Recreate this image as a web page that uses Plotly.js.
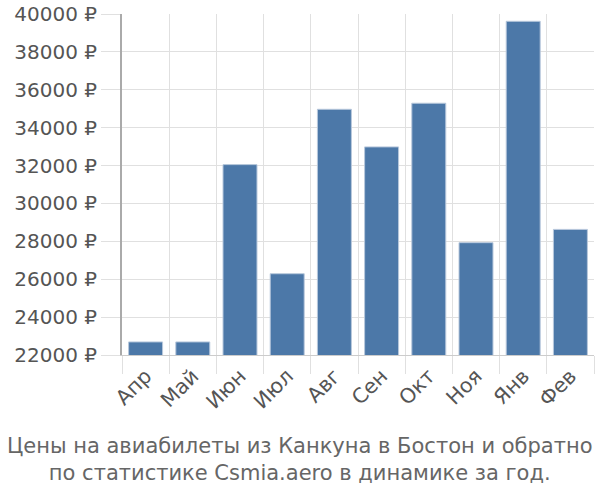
<!DOCTYPE html>
<html><head><meta charset="utf-8">
<script src="https://cdn.plot.ly/plotly-3.0.1.min.js"></script>
<style>html,body{margin:0;padding:0;background:#fff}</style>
</head><body>
<div id="chart" style="width:600px;height:500px"></div>
<script>
var months = ["Апр","Май","Июн","Июл","Авг","Сен","Окт","Ноя","Янв","Фев"];
var prices = [22690, 22690, 32050, 26290, 34970, 32985, 35290, 27930, 39615, 28630];
var yTicks = [22000,24000,26000,28000,30000,32000,34000,36000,38000,40000];
var yTickText = yTicks.map(function(v){return v + " ₽";});
var titleText = "Цены на авиабилеты из Канкуна в Бостон и обратно<br>по статистике Csmia.aero в динамике за год.";

Plotly.newPlot("chart", [{
  type: "bar",
  x: months,
  y: prices,
  marker: {color: "#4c78a8", line: {color: "#b8c8dc", width: 1}},
  hoverinfo: "skip"
}], {
  width: 600, height: 500,
  margin: {l: 122, r: 6, t: 14, b: 145},
  paper_bgcolor: "#fff", plot_bgcolor: "#fff",
  bargap: 0.28,
  font: {family: "DejaVu Sans, sans-serif", color: "#555", size: 20},
  xaxis: {
    type: "category",
    tickson: "boundaries",
    showgrid: true, gridcolor: "#e0e0e0", gridwidth: 1,
    ticks: "outside", ticklen: 18, tickcolor: "#e0e0e0",
    tickangle: -45,
    tickfont: {size: 20.5, color: "#555"},
    showline: true, linecolor: "#ccc", linewidth: 1,
    zeroline: false
  },
  yaxis: {
    range: [22000, 40000],
    tickvals: yTicks, ticktext: yTickText,
    showgrid: true, gridcolor: "#e0e0e0", gridwidth: 1,
    ticks: "outside", ticklen: 19, tickcolor: "#e0e0e0",
    tickfont: {size: 20, color: "#555"},
    showline: true, linecolor: "#aaa", linewidth: 2,
    zeroline: false
  },
  annotations: [{
    text: titleText, showarrow: false,
    xref: "paper", yref: "paper", x: 0.377, y: 0, yshift: -77,
    xanchor: "center", yanchor: "top",
    font: {size: 21, color: "#666"}, align: "center"
  }],
  showlegend: false
}, {displayModeBar: false, staticPlot: true});
</script>
</body></html>
